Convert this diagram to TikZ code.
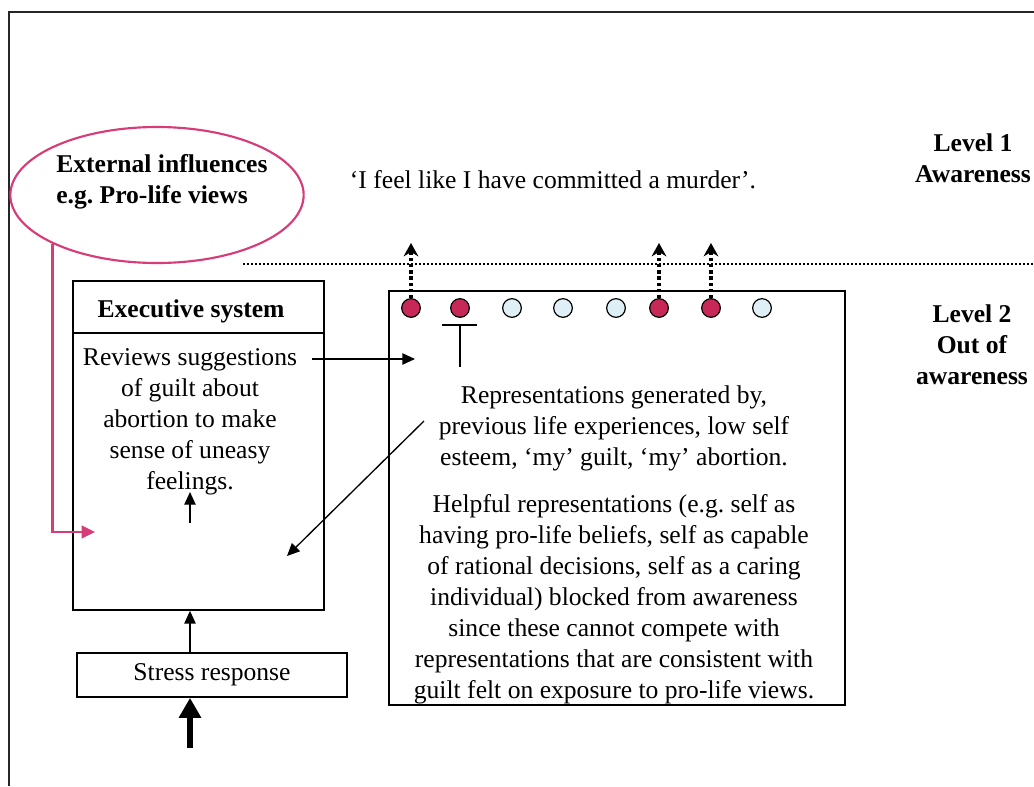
\documentclass[tikz,border=0pt]{standalone}
\usepackage{fontspec}
\setmainfont{Liberation Serif}
\usetikzlibrary{arrows.meta,shapes.geometric}
\definecolor{pinkline}{RGB}{214,60,120}
\definecolor{redfill}{RGB}{200,40,88}
\definecolor{bluefill}{RGB}{222,240,246}
\newcommand\mysz{\fontsize{19.2pt}{23.3pt}\selectfont}
\frenchspacing
\begin{document}
\begin{tikzpicture}[x=0.75pt,y=-0.75pt,
  every node/.style={font=\mysz},
  boldtxt/.style={font=\mysz\bfseries, align=center, inner sep=0pt},
  txt/.style={align=center, inner sep=0pt},
  box/.style={draw, line width=1.3pt, inner sep=0pt},
  arr/.style={line width=1pt, -{Triangle[length=9.5pt,width=8.5pt]}},
  dotarr/.style={line width=3pt, dash pattern=on 2.4pt off 2.2pt, -{Stealth[length=10pt,width=11pt]}},
  circR/.style={circle, draw, line width=0.9pt, fill=redfill, minimum size=14pt, inner sep=0pt},
  circB/.style={circle, draw, line width=0.9pt, fill=bluefill, minimum size=14pt, inner sep=0pt}]
\useasboundingbox (0,0) rectangle (1034,786);
% outer frame
\coordinate (fr1) at (1034,12);
\coordinate (fr2) at (9,12);
\coordinate (fr3) at (9,786);
\draw[line width=1pt, black!85] (fr1) -- (fr2) -- (fr3);

% level divider
\coordinate (dl) at (243,264);
\coordinate (dr) at (1034,264);
\draw[line width=1.3pt, dash pattern=on 1.3pt off 1.7pt] (dl) -- (dr);

% external influences
\node[ellipse, draw=pinkline, line width=1.6pt, minimum width=220pt, minimum height=102pt] (ell) at (157,195) {};
\node[boldtxt, align=left, anchor=west] (ext) at (56,182) {External influences\\e.g. Pro-life views};

% executive system
\node[box, minimum width=188.25pt, minimum height=246.75pt] (exec) at (198.5,445.5) {};
\coordinate (divy) at (0,333);
\draw[line width=1.3pt] (exec.west |- divy) -- (exec.east |- divy);
\node[boldtxt] (exectitle) at (191,311) {Executive system};
\node[txt] (rev) at (190,422) {Reviews suggestions\\of guilt about\\abortion to make\\sense of uneasy\\feelings.};
\coordinate (ua) at (190,523);
\coordinate (ub) at (190,492);
\draw[arr] (ua) -- (ub);

% pink connector
\coordinate (pinktip) at (95,532);
\draw[pinkline, line width=1.6pt, -{Triangle[length=10pt,width=9.5pt]}] (ell.south west) |- (pinktip);

% stress response
\node[box, minimum width=202.5pt, minimum height=33pt] (stress) at (212,675) {Stress response};
\draw[arr] (stress.north -| ua) -- (exec.south -| ua);
\coordinate (tb) at (190,748);
\draw[line width=4.5pt, -{Triangle[length=15pt,width=16pt]}] (tb) -- (stress.south -| tb);

% representations box
\node[box, minimum width=342pt, minimum height=310.5pt] (rep) at (617,498) {};
\node[circR] (c1) at (411,308) {};
\node[circR] (c2) at (460,308) {};
\node[circB] (c3) at (512,308) {};
\node[circB] (c4) at (563,308) {};
\node[circB] (c5) at (616,308) {};
\node[circR] (c6) at (659,308) {};
\node[circR] (c7) at (711,308) {};
\node[circB] (c8) at (762,308) {};

% blocked T
\coordinate (tl) at (442,325);
\coordinate (tr) at (477,325);
\coordinate (tbm) at (460,367);
\draw[line width=1pt] (tl) -- (tr);
\draw[line width=1pt] (c2 |- tl) -- (tbm);

% dotted arrows to awareness
\coordinate (lvl) at (0,243);
\draw[dotarr] (c1.north) -- (c1 |- lvl);
\draw[dotarr] (c6.north) -- (c6 |- lvl);
\draw[dotarr] (c7.north) -- (c7 |- lvl);

% other arrows
\coordinate (ra1) at (312,359);
\coordinate (ra2) at (415,359);
\draw[arr] (ra1) -- (ra2);
\coordinate (d1) at (424,421);
\coordinate (d2) at (287,556);
\draw[arr] (d1) -- (d2);

% texts
\node[txt] (quote) at (553,180) {‘I feel like I have committed a murder’.};
\node[boldtxt] (lv1) at (973,158) {Level 1\\Awareness};
\node[boldtxt] (lv2) at (972,345) {Level 2\\Out of\\awareness};
\node[txt] (rep1) at (614,428) {Representations generated by,\\previous life experiences, low self\\esteem, ‘my’ guilt, ‘my’ abortion.};
\node[txt] (rep2) at (614,599) {Helpful representations (e.g. self as\\having pro-life beliefs, self as capable\\of rational decisions, self as a caring\\individual) blocked from awareness\\since these cannot compete with\\representations that are consistent with\\guilt felt on exposure to pro-life views.};
\end{tikzpicture}
\end{document}
